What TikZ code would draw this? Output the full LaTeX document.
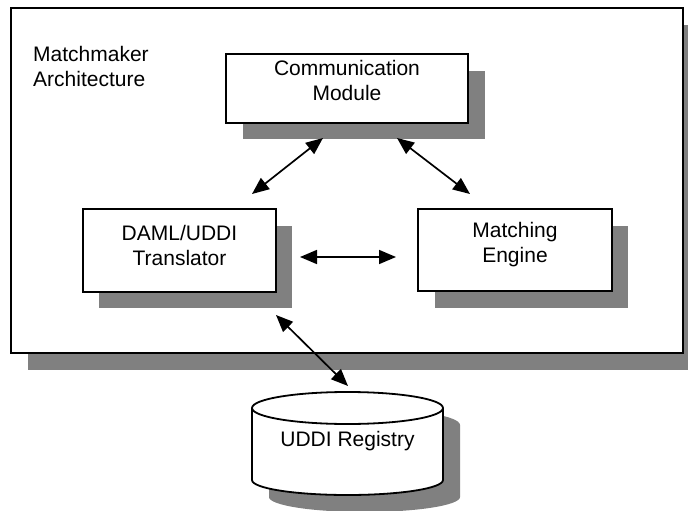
\documentclass[tikz,border=0pt]{standalone}
\usepackage{fontspec}
\setmainfont{Liberation Sans}
\usetikzlibrary{arrows.meta}
\definecolor{shadowgray}{HTML}{808080}
\tikzset{
  box/.style={draw=black, line width=2pt, fill=white, rectangle, inner sep=0pt, align=center},
  lbl/.style={align=center, inner sep=0pt, font=\fontsize{21}{25}\selectfont},
  link/.style={line width=1.7pt, {Triangle[length=17pt,width=14pt]}-{Triangle[length=17pt,width=14pt]}}
}
\begin{document}
\begin{tikzpicture}[x=1pt, y=-1pt]
  \useasboundingbox (0,0) rectangle (688,511);
  \clip (0,0) rectangle (688,511);

  % outer container with its drop shadow
  \fill[shadowgray] (28,25) rectangle (700,370);
  \draw[line width=2.5pt, fill=white] (11,8) rectangle (683,353);
  \node[lbl, align=left, anchor=north west] (title) at (33,46) {Matchmaker\\Architecture};

  % shadows of the inner modules
  \fill[shadowgray] (243,71) rectangle (485,139);
  \fill[shadowgray] (99,226) rectangle (292,308);
  \fill[shadowgray] (435,226) rectangle (628,308);

  % inner modules
  \draw[box] (226,54) rectangle (468,123);
  \node[lbl, anchor=north] (comm) at (347,60) {Communication\\Module};
  \draw[box] (83,209) rectangle (276,292);
  \node[lbl, anchor=north] (daml) at (179.5,225) {DAML/UDDI\\Translator};
  \draw[box] (418,209) rectangle (612,291);
  \node[lbl, anchor=north] (match) at (515,222) {Matching\\Engine};

  % registry cylinder: shadow, body, top cap (y axis points down)
  \fill[shadowgray] (269,425) -- (269,497) arc[start angle=180, end angle=0, x radius=95.5, y radius=15] -- (460,425) arc[start angle=0, end angle=-180, x radius=95.5, y radius=16] -- cycle;
  \draw[line width=1.8pt, fill=white] (252,408) -- (252,480) arc[start angle=180, end angle=0, x radius=95.5, y radius=15] -- (443,408) arc[start angle=0, end angle=-180, x radius=95.5, y radius=16] -- cycle;
  \draw[line width=1.8pt] (252,408) arc[start angle=180, end angle=0, x radius=95.5, y radius=16];
  \node[lbl] (reg) at (347.5,441) {UDDI Registry};

  % arrow end points
  \coordinate (commL) at (323,138);
  \coordinate (damlT) at (252,194);
  \coordinate (commR) at (397,138);
  \coordinate (matchT) at (470,194);
  \coordinate (damlR) at (300,257);
  \coordinate (matchL) at (396,257);
  \coordinate (damlB) at (276,315);
  \coordinate (regT) at (348,386);

  \draw[link] (commL) -- (damlT);
  \draw[link] (commR) -- (matchT);
  \draw[link] (damlR) -- (matchL);
  \draw[link] (damlB) -- (regT);
\end{tikzpicture}
\end{document}
